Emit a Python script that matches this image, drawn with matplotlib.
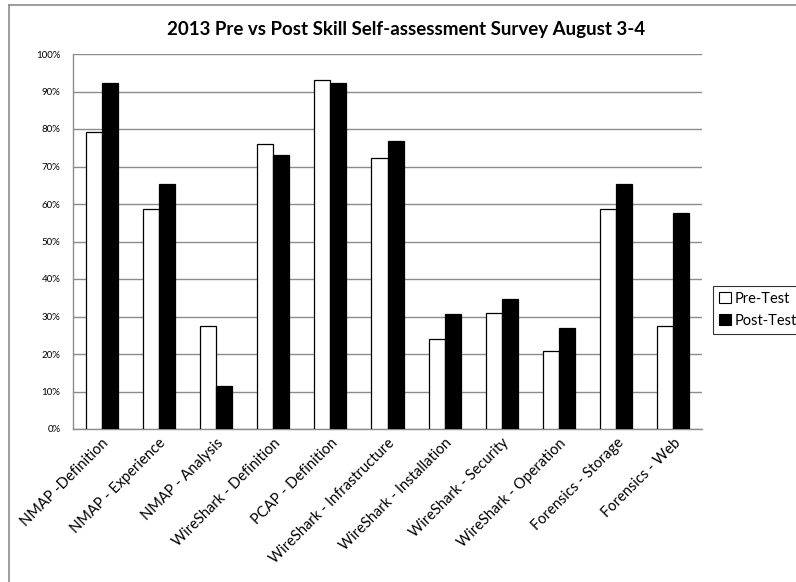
import numpy as np
import matplotlib
matplotlib.use("Agg")
import matplotlib.pyplot as plt
from matplotlib.lines import Line2D
from matplotlib.patches import Patch

# survey skills and share of participants (%)
categories = ['NMAP -Definition', 'NMAP - Experience', 'NMAP - Analysis',
              'WireShark - Definition', 'PCAP - Definition', 'WireShark - Infrastructure',
              'WireShark - Installation', 'WireShark - Security', 'WireShark - Operation',
              'Forensics - Storage', 'Forensics - Web']
pre_test = [79.3, 58.6, 27.6, 75.9, 93.1, 72.4, 24.1, 31.0, 20.7, 58.6, 27.6]
post_test = [92.3, 65.4, 11.5, 73.1, 92.3, 76.9, 30.8, 34.6, 26.9, 65.4, 57.7]
y_ticks = np.arange(0, 101, 10)
y_labels = [f'{v}%' for v in y_ticks]

plt.rcParams['font.family'] = ['Lato', 'DejaVu Sans']

W, H = 796, 582
fig = plt.figure(figsize=(W / 100, H / 100), dpi=100)
ax = fig.add_axes([73 / W, 1 - 429 / H, (702 - 73) / W, (429 - 54) / H])

x = np.arange(len(categories))
bw = 0.28
ax.bar(x - bw / 2, pre_test, bw, color='white', edgecolor='black', linewidth=0.9,
       label='Pre-Test', zorder=3)
ax.bar(x + bw / 2, post_test, bw, color='black', edgecolor='black', linewidth=0.9,
       label='Post-Test', zorder=3)

ax.set_xlim(-0.5, len(categories) - 0.5)
ax.set_ylim(0, 100)
ax.set_yticks(y_ticks)
ax.set_yticklabels(y_labels, fontsize=7)
ax.tick_params(axis='y', length=0, pad=9)
ax.set_xticks(x)
ax.set_xticklabels(categories, rotation=45, ha='right', va='top',
                   rotation_mode='anchor', fontsize=10.5)
ax.tick_params(axis='x', length=0, pad=5)

ax.yaxis.grid(True, color='#8c8c8c', linewidth=1, zorder=0)
ax.set_axisbelow(True)
for s in ['top', 'right']:
    ax.spines[s].set_visible(False)
for s in ['left', 'bottom']:
    ax.spines[s].set_color('#8c8c8c')
    ax.spines[s].set_linewidth(1)

fig.text(406 / W, 1 - 30 / H, '2013 Pre vs Post Skill Self-assessment Survey August 3-4',
         ha='center', va='center', fontsize=13.5, fontweight='bold')

handles = [Patch(facecolor='white', edgecolor='black', linewidth=0.8),
           Patch(facecolor='black', edgecolor='black', linewidth=0.8)]
leg = fig.legend(handles, ['Pre-Test', 'Post-Test'], loc='upper left',
                 bbox_to_anchor=(713 / W, 1 - 286 / H), fontsize=10.5,
                 frameon=True, fancybox=False, borderpad=0.4,
                 handlelength=0.8, handleheight=0.8, handletextpad=0.3,
                 labelspacing=0.55, borderaxespad=0)
leg.get_frame().set_edgecolor('black')
leg.get_frame().set_linewidth(0.8)

# chart border (top and left edges visible)
fig.add_artist(Line2D([9 / W, 1], [1 - 5 / H, 1 - 5 / H], color='#8c8c8c', linewidth=1.2))
fig.add_artist(Line2D([9 / W, 9 / W], [0, 1 - 5 / H], color='#8c8c8c', linewidth=1.2))

fig.savefig('out.png', dpi=100)
